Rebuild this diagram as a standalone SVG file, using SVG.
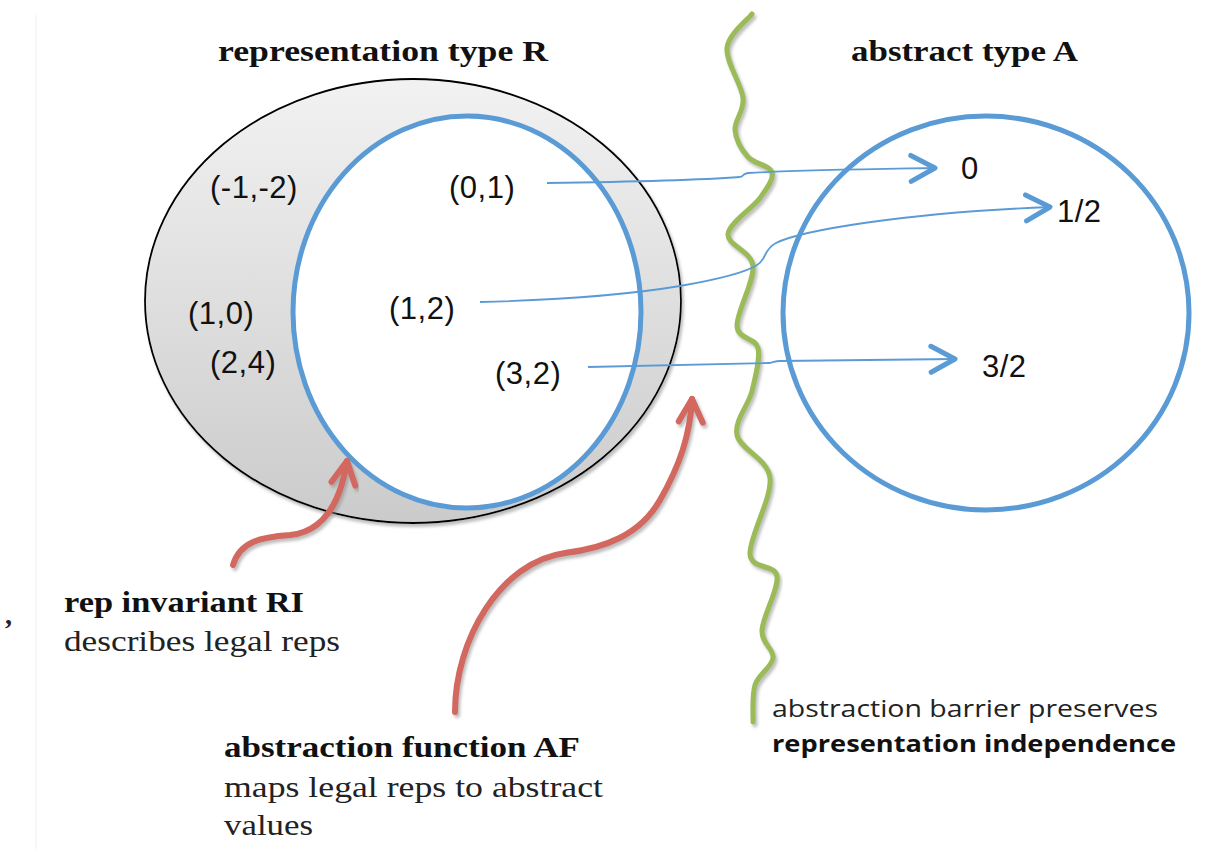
<svg xmlns="http://www.w3.org/2000/svg" width="1228" height="849" viewBox="0 0 1228 849">
<style>
.title{font-family:"Liberation Serif",serif;font-weight:bold;font-size:30px;fill:#111}
.cap{font-family:"Liberation Serif",serif;font-size:30px;fill:#222}
.capb{font-family:"Liberation Serif",serif;font-weight:bold;font-size:30px;fill:#111}
.pt{font-family:"Liberation Sans",Arial,sans-serif;font-size:31px;letter-spacing:0.5px;fill:#111}
.sans{font-family:"Open Sans","Liberation Sans",sans-serif;font-size:24px;fill:#222}
.sansb{font-family:"Open Sans","Liberation Sans",sans-serif;font-size:24px;font-weight:bold;fill:#111}
.blue{stroke:#5b9bd5;stroke-width:5}
.link{fill:none;stroke:#5b9bd5;stroke-width:1.8}
.red{fill:none;stroke:#d2675e;stroke-width:6;stroke-linecap:round}
</style>
<defs>
<linearGradient id="gfill" x1="0" y1="0" x2="0" y2="1">
<stop offset="0" stop-color="#f2f2f2"/>
<stop offset="1" stop-color="#cbcbcb"/>
</linearGradient>
<filter id="sh" x="-10%" y="-10%" width="120%" height="120%">
<feDropShadow dx="2" dy="3" stdDeviation="1.5" flood-color="#888" flood-opacity="0.55"/>
</filter>
<marker id="bh" markerUnits="userSpaceOnUse" markerWidth="40" markerHeight="40" viewBox="-30 -20 40 40" refX="0" refY="0" orient="auto" overflow="visible">
<path d="M-24,-13 L0,0 L-24,13" fill="none" stroke="#5b9bd5" stroke-width="5" stroke-linecap="round" stroke-linejoin="round"/>
</marker>
<marker id="rh" markerUnits="userSpaceOnUse" markerWidth="40" markerHeight="40" viewBox="-30 -20 40 40" refX="0" refY="0" orient="auto" overflow="visible">
<path d="M-23,-12 L0,0 L-23,12" fill="none" stroke="#d2675e" stroke-width="6" stroke-linecap="round" stroke-linejoin="round"/>
</marker>
</defs>
<rect width="1228" height="849" fill="#fff"/>
<line x1="36" y1="15" x2="36" y2="849" stroke="#f0f0f0" stroke-width="1"/>
<text x="5" y="624" font-family="Liberation Serif,serif" font-weight="bold" font-size="28" fill="#223">,</text>

<g id="rep-type-R">
<ellipse cx="413" cy="301" rx="268" ry="222" fill="url(#gfill)" stroke="#000" stroke-width="1.8" filter="url(#sh)"/>
<text class="title" x="218" y="61" textLength="330" lengthAdjust="spacingAndGlyphs">representation type R</text>
</g>
<g id="rep-invariant-RI">
<ellipse cx="467" cy="312" rx="174" ry="196" fill="#fff" class="blue"/>
</g>
<g id="abstract-type-A">
<ellipse cx="986" cy="313" rx="203" ry="197" fill="none" class="blue"/>
<text class="title" x="851" y="61" textLength="227" lengthAdjust="spacingAndGlyphs">abstract type A</text>
</g>

<g id="rep-values">
<text class="pt" x="210" y="198">(-1,-2)</text>
<text class="pt" x="449" y="198">(0,1)</text>
<text class="pt" x="188" y="324">(1,0)</text>
<text class="pt" x="389" y="319">(1,2)</text>
<text class="pt" x="210" y="373">(2,4)</text>
<text class="pt" x="495" y="384">(3,2)</text>
</g>
<g id="abstract-values">
<text class="pt" x="961" y="179">0</text>
<text class="pt" x="1057" y="222">1/2</text>
<text class="pt" x="982" y="377">3/2</text>
</g>

<g id="barrier">
<path filter="url(#sh)" fill="none" stroke="#9bbb59" stroke-width="5" stroke-linecap="round" stroke-linejoin="round" d="M752,14 C747.8,19.7 728.5,34 727,48 C725.5,62 741.7,84.3 743,98 C744.3,111.7 734.2,120.2 735,130 C735.8,139.8 741.8,150 748,157 C754.2,164 770,165.2 772,172 C774,178.8 767.3,187.7 760,198 C752.7,208.3 729.2,222.7 728,234 C726.8,245.3 751.5,250.7 753,266 C754.5,281.3 736.2,312.3 737,326 C737.8,339.7 755.5,337.2 758,348 C760.5,358.8 755.5,376.5 752,391 C748.5,405.5 734,420.5 737,435 C740,449.5 767.8,458.2 770,478 C772.2,497.8 748.8,537.7 750,554 C751.2,570.3 775,563.3 777,576 C779,588.7 762.7,616.3 762,630 C761.3,643.7 774.2,648.8 773,658 C771.8,667.2 758.3,674.3 755,685 C751.7,695.7 753.3,715.8 753,722"/>
</g>

<g id="connectors">
<path class="link" marker-end="url(#bh)" d="M547,183 C620,182 700,180 740,177 C744,176 742,174 748,173 C800,170 880,169 935,168"/>
<path class="link" marker-end="url(#bh)" d="M480,302 C560,300 620,296 680,286 C720,279 745,273 757,265 C767,259 763,250 776,243 C800,231 900,213 1050,207"/>
<path class="link" marker-end="url(#bh)" d="M588,367 L770,363 C774,362 776,361 780,361 L955,359"/>
<path class="red" filter="url(#sh)" marker-end="url(#rh)" d="M233,565 C240,541 262,537 290,535 C322,532 340,505 347,461"/>
<path class="red" filter="url(#sh)" marker-end="url(#rh)" d="M455,712 C455,640 500,562 565,553 C605,548 640,535 660,500 C680,465 690,435 692,399"/>
</g>

<g id="label-RI">
<text class="capb" x="64" y="612" textLength="240" lengthAdjust="spacingAndGlyphs">rep invariant RI</text>
<text class="cap" x="64" y="651" textLength="276" lengthAdjust="spacingAndGlyphs">describes legal reps</text>
</g>
<g id="label-AF">
<text class="capb" x="224" y="757" textLength="356" lengthAdjust="spacingAndGlyphs">abstraction function AF</text>
<text class="cap" x="224" y="797" textLength="379" lengthAdjust="spacingAndGlyphs">maps legal reps to abstract</text>
<text class="cap" x="224" y="835" textLength="89" lengthAdjust="spacingAndGlyphs">values</text>
</g>
<g id="label-barrier">
<text class="sans" x="772" y="717" textLength="386" lengthAdjust="spacingAndGlyphs">abstraction barrier preserves</text>
<text class="sansb" x="772" y="752" textLength="404" lengthAdjust="spacingAndGlyphs">representation independence</text>
</g>
</svg>
